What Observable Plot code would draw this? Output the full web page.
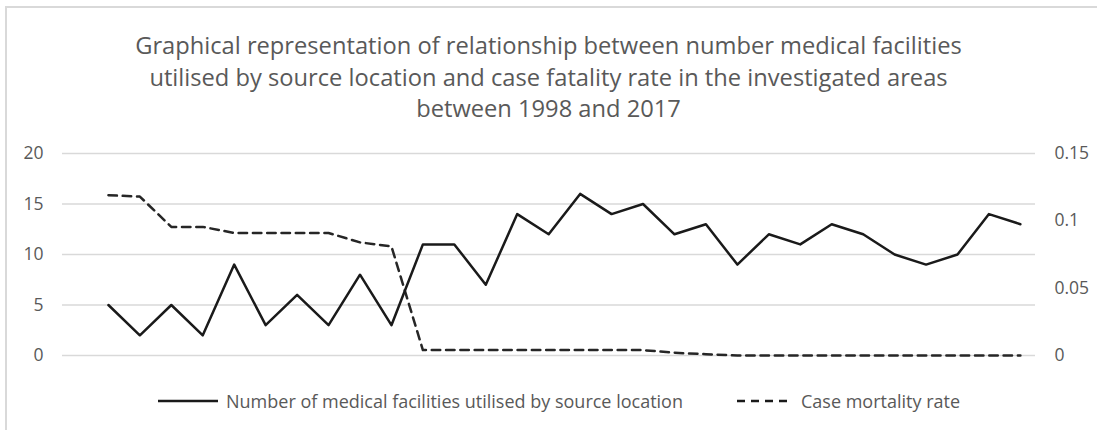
<!DOCTYPE html>
<html>
<head>
<meta charset="utf-8">
<script src="https://cdn.jsdelivr.net/npm/d3@7"></script>
<script src="https://cdn.jsdelivr.net/npm/@observablehq/plot@0.6"></script>
<style>
  body { margin: 0; background: #fff; font-family: "Open Sans", sans-serif; }
  #wrap { position: relative; width: 1097px; height: 430px; overflow: hidden; }
  #border { position: absolute; left: 5px; top: 6px; width: 1100px; height: 440px; border-top: 2px solid #d9d9d9; border-left: 2px solid #d9d9d9; }
  #title { position: absolute; left: 0; top: 30px; width: 1097px; text-align: center; color: #595959; font-size: 23.7px; line-height: 31.5px; }
  #chart { position: absolute; left: 0; top: 130px; }
  #legend { position: absolute; left: 0; top: 388px; width: 1097px; height: 26px; color: #595959; font-size: 18px; }
  .item { position: absolute; top: 0; display: flex; align-items: center; height: 26px; }
  .item svg { margin-right: 8px; }
</style>
</head>
<body>
<div id="wrap">
  <div id="border"></div>
  <div id="title"></div>
  <div id="chart"></div>
  <div id="legend"></div>
</div>
<script>
const titleLines = [
  "Graphical representation of relationship between number medical facilities",
  "utilised by source location and case fatality rate in the investigated areas",
  "between 1998 and 2017"
];
const pointIndex = [0,1,2,3,4,5,6,7,8,9,10,11,12,13,14,15,16,17,18,19,20,21,22,23,24,25,26,27,28,29];
const facilities = [5,2,5,2,9,3,6,3,8,3,11,11,7,14,12,16,14,15,12,13,9,12,11,13,12,10,9,10,14,13];
const mortality = [0.119,0.118,0.0955,0.0955,0.091,0.091,0.091,0.091,0.084,0.081,0.004,0.004,0.004,0.004,0.004,0.004,0.004,0.004,0.002,0.001,0,0,0,0,0,0,0,0,0,0];
const leftTicks = [0,5,10,15,20];
const rightTicks = [0,0.05,0.1,0.15];
const rightTickLabels = ["0","0.05","0.1","0.15"];
const seriesNames = ["Number of medical facilities utilised by source location", "Case mortality rate"];

document.getElementById("title").innerHTML = titleLines.map(t => `<div>${t}</div>`).join("");

const leftMax = 20, rightMax = 0.15;
const toLeft = v => v * leftMax / rightMax;

const solid = pointIndex.map((i) => ({i, v: facilities[i]}));
const dashed = pointIndex.map((i) => ({i, v: toLeft(mortality[i])}));
const rightData = rightTicks.map((t, k) => ({y: toLeft(t), label: rightTickLabels[k]}));

const chart = Plot.plot({
  width: 1097,
  height: 250,
  marginLeft: 62,
  marginRight: 62,
  marginTop: 23,
  marginBottom: 25,
  style: {fontFamily: '"Open Sans", sans-serif', background: "transparent"},
  x: {type: "linear", domain: [-1.46, 29.48], axis: null},
  y: {domain: [0, 20], axis: null},
  marks: [
    Plot.ruleY(leftTicks, {stroke: "#d9d9d9", strokeWidth: 1.5}),
    Plot.text(leftTicks, {y: d => d, frameAnchor: "left", dx: -19, textAnchor: "end", text: d => String(d), fill: "#595959", fontSize: 17.5}),
    Plot.text(rightData, {y: "y", frameAnchor: "right", dx: 19, textAnchor: "start", text: "label", fill: "#595959", fontSize: 17.5}),
    Plot.line(dashed, {x: "i", y: "v", stroke: "#262626", strokeWidth: 2.5, strokeDasharray: "8.5,5.8"}),
    Plot.line(solid, {x: "i", y: "v", stroke: "#1a1a1a", strokeWidth: 2.5})
  ]
});
document.getElementById("chart").appendChild(chart);

const legend = document.getElementById("legend");
const swatch = (w, dash) => `<svg width="${w}" height="6"><line x1="0" y1="3" x2="${w}" y2="3" stroke="#1a1a1a" stroke-width="2.5" ${dash ? 'stroke-dasharray="8,6"' : ''}/></svg>`;
legend.innerHTML =
  `<div class="item" style="left:158px">${swatch(60, false)}<span>${seriesNames[0]}</span></div>` +
  `<div class="item" style="left:737px">${swatch(56, true)}<span>${seriesNames[1]}</span></div>`;
</script>
</body>
</html>
